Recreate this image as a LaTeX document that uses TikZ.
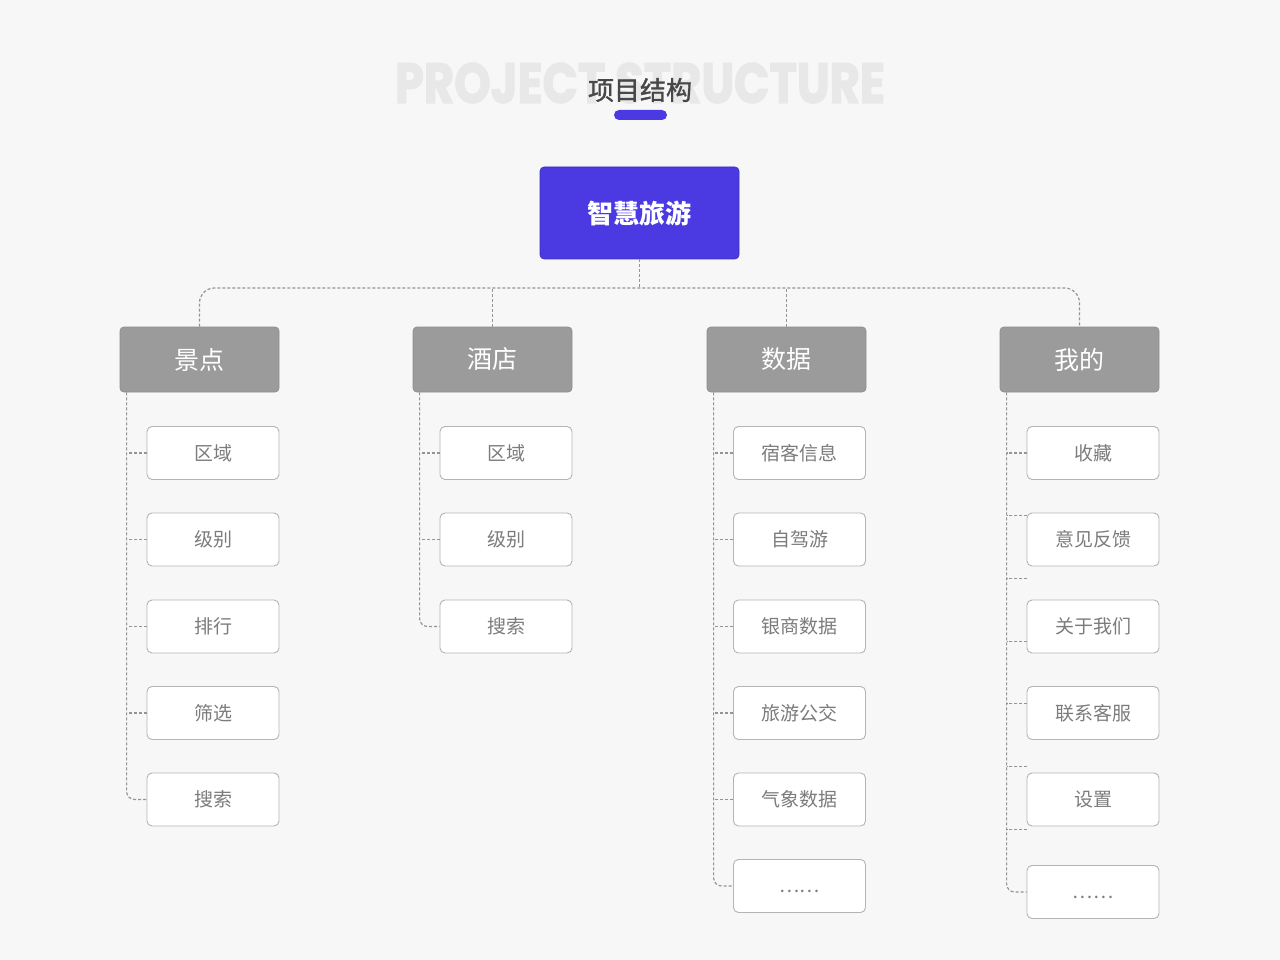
\documentclass[tikz,border=0pt]{standalone}
\usepackage{fontspec}
\usepackage{graphicx}
\setmainfont{Noto Sans CJK SC}
\newfontfamily\cjkmedium{Noto Sans CJK SC}[FakeBold=1.2]
\newfontfamily\latinheavy{Poppins}[BoldFeatures={FakeBold=2.5}]
\usetikzlibrary{positioning}

% Colours
\definecolor{pagebg}{HTML}{F7F7F7}
\definecolor{brandblue}{HTML}{4B3AE2}
\definecolor{catgray}{HTML}{9B9B9B}
\definecolor{catedge}{HTML}{8E8E8E}
\definecolor{itemedge}{HTML}{B4B4B4}
\definecolor{itemtext}{HTML}{7C7C7C}
\definecolor{linegray}{HTML}{949494}
\definecolor{ghosttext}{HTML}{E8E8E8}

\tikzset{
  rootbox/.style={fill=brandblue, draw=brandblue!80!black, line width=0.6pt,
    rounded corners=4pt, minimum width=199pt, minimum height=92pt,
    inner sep=0pt, text=white, font=\fontsize{26}{30}\selectfont\bfseries},
  catbox/.style={fill=catgray, draw=catedge, line width=0.8pt,
    rounded corners=4pt, minimum width=159pt, minimum height=65pt,
    inner sep=0pt, text=white, font=\fontsize{25}{30}\selectfont},
  itembox/.style={fill=white, draw=itemedge, line width=0.9pt,
    rounded corners=5pt, minimum width=132pt, minimum height=53pt,
    inner sep=0pt, text=itemtext, font=\fontsize{19}{23}\selectfont},
  link/.style={draw=linegray, line width=1.2pt, dash pattern=on 3pt off 2pt},
}

\begin{document}
\begin{tikzpicture}[x=1pt, y=-1pt]

  % Page
  \fill[pagebg] (0,0) rectangle (1280,960);

  % Heading
  \node[text=ghosttext, inner sep=0pt] (ghost) at (640,83)
    {\resizebox{490pt}{40pt}{\latinheavy\bfseries PROJECT STRUCTURE}};
  \node[text=black!72, inner sep=0pt, font=\fontsize{26}{30}\cjkmedium]
    (title) at (640,90) {项目结构};
  \node[fill=brandblue, rounded corners=5pt, minimum width=53pt,
    minimum height=10pt, inner sep=0pt] (titlebar) at (640.5,115) {};

  % Root
  \node[rootbox] (root) at (639.5,213) {智慧旅游};

  % Categories
  \node[catbox] (spot)  at (199.5,359.5)  {景点};
  \node[catbox] (hotel) at (492.5,359.5)  {酒店};
  \node[catbox] (stats) at (786.5,359.5)  {数据};
  \node[catbox] (mine)  at (1079.5,359.5) {我的};

  % Bus from root to categories
  \coordinate (bus) at (639.5,288);
  \draw[link] (root.south) -- (bus);
  \draw[link, rounded corners=15pt] (spot.north) |- (bus) -| (mine.north);
  \draw[link] (hotel.north) -- (hotel.north |- bus);
  \draw[link] (stats.north) -- (stats.north |- bus);

  % 景点
  \node[itembox] (spot1) at (213,453)   {区域};
  \node[itembox] (spot2) at (213,539.5) {级别};
  \node[itembox] (spot3) at (213,626.5) {排行};
  \node[itembox] (spot4) at (213,713)   {筛选};
  \node[itembox] (spot5) at (213,799.5) {搜索};
  \coordinate (spotspine) at ([xshift=7pt]spot.south west);
  \draw[link, rounded corners=8pt] (spotspine) |- (spot5.west);
  \draw[link] (spot1.west) -- (spot1.west -| spotspine);
  \draw[link] (spot2.west) -- (spot2.west -| spotspine);
  \draw[link] (spot3.west) -- (spot3.west -| spotspine);
  \draw[link] (spot4.west) -- (spot4.west -| spotspine);

  % 酒店
  \node[itembox] (hotel1) at (506,453)   {区域};
  \node[itembox] (hotel2) at (506,539.5) {级别};
  \node[itembox] (hotel3) at (506,626.5) {搜索};
  \coordinate (hotelspine) at ([xshift=7pt]hotel.south west);
  \draw[link, rounded corners=8pt] (hotelspine) |- (hotel3.west);
  \draw[link] (hotel1.west) -- (hotel1.west -| hotelspine);
  \draw[link] (hotel2.west) -- (hotel2.west -| hotelspine);

  % 数据
  \node[itembox] (stats1) at (799.5,453)   {宿客信息};
  \node[itembox] (stats2) at (799.5,539.5) {自驾游};
  \node[itembox] (stats3) at (799.5,626.5) {银商数据};
  \node[itembox] (stats4) at (799.5,713)   {旅游公交};
  \node[itembox] (stats5) at (799.5,799.5) {气象数据};
  \node[itembox] (stats6) at (799.5,886)   {\smash{\raisebox{-6pt}{……}}};
  \coordinate (statsspine) at ([xshift=7pt]stats.south west);
  \draw[link, rounded corners=8pt] (statsspine) |- (stats6.west);
  \draw[link] (stats1.west) -- (stats1.west -| statsspine);
  \draw[link] (stats2.west) -- (stats2.west -| statsspine);
  \draw[link] (stats3.west) -- (stats3.west -| statsspine);
  \draw[link] (stats4.west) -- (stats4.west -| statsspine);
  \draw[link] (stats5.west) -- (stats5.west -| statsspine);

  % 我的
  \node[itembox] (mine1) at (1093,453)   {收藏};
  \node[itembox] (mine2) at (1093,539.5) {意见反馈};
  \node[itembox] (mine3) at (1093,626.5) {关于我们};
  \node[itembox] (mine4) at (1093,713)   {联系客服};
  \node[itembox] (mine5) at (1093,799.5) {设置};
  \node[itembox] (mine6) at (1093,892)   {\smash{\raisebox{-6pt}{……}}};
  \coordinate (minespine) at ([xshift=7pt]mine.south west);
  \draw[link, rounded corners=8pt] (minespine) |- (mine6.west);
  % ticks on an even step, not on the boxes
  \coordinate (tick1) at (1027,453);
  \coordinate (tick2) at (1027,515.7);
  \coordinate (tick3) at (1027,578.4);
  \coordinate (tick4) at (1027,641.1);
  \coordinate (tick5) at (1027,703.8);
  \coordinate (tick6) at (1027,766.5);
  \coordinate (tick7) at (1027,829.2);
  \draw[link] (tick1) -- (tick1 -| minespine);
  \draw[link] (tick2) -- (tick2 -| minespine);
  \draw[link] (tick3) -- (tick3 -| minespine);
  \draw[link] (tick4) -- (tick4 -| minespine);
  \draw[link] (tick5) -- (tick5 -| minespine);
  \draw[link] (tick6) -- (tick6 -| minespine);
  \draw[link] (tick7) -- (tick7 -| minespine);

\end{tikzpicture}
\end{document}
